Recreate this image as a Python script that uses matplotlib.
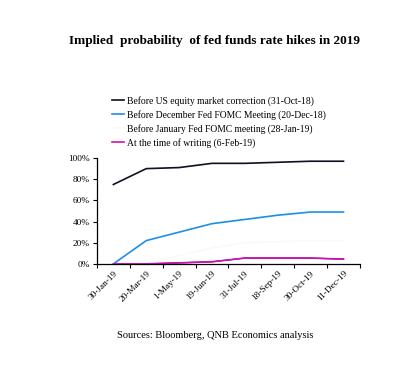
import matplotlib
matplotlib.use("Agg")
import matplotlib.pyplot as plt
from matplotlib.ticker import PercentFormatter, FixedLocator
import numpy as np

plt.rcParams['font.family'] = ['Liberation Serif', 'DejaVu Serif']

# FOMC meeting dates in 2019
meetings = ["30-Jan-19", "20-Mar-19", "1-May-19", "19-Jun-19",
            "31-Jul-19", "18-Sep-19", "30-Oct-19", "11-Dec-19"]

# implied probability (%) of at least one hike by each meeting
before_equity = [75, 90, 91, 95, 95, 96, 97, 97]
before_dec_fomc = [0, 22, 30, 38, 42, 46, 49, 49]
before_jan_fomc = [0, 0, 8, 15, 20, 21, 22, 22]
time_of_writing = [0, 0, 1, 2, 5.5, 5.5, 5.5, 4.5]

labels = ["Before US equity market correction (31-Oct-18)",
          "Before December Fed FOMC Meeting (20-Dec-18)",
          "Before January Fed FOMC meeting (28-Jan-19)",
          "At the time of writing (6-Feb-19)"]
colors = ["#101020", "#1e8fe6", "#f7f9fb", "#d010b8"]

fig = plt.figure(figsize=(4.09, 3.65), dpi=100)
ax = fig.add_axes([0.237, 0.277, 0.643, 0.290])

x = np.arange(len(meetings))
series = [before_equity, before_dec_fomc, before_jan_fomc, time_of_writing]
handles = []
for vals, lab, col in zip(series, labels, colors):
    h, = ax.plot(x, vals, color=col, lw=1.2, label=lab)
    handles.append(h)
# dark edge under the latest series, as in the source image
ax.plot(x, time_of_writing, color="#2a0828", lw=0.9, zorder=1.5)

ax.set_xlim(-0.5, len(meetings) - 0.5)
ax.set_ylim(0, 100)
ax.set_yticks(np.arange(0, 101, 20))
ax.yaxis.set_major_formatter(PercentFormatter(decimals=0))
ax.set_xticks(x)
ax.set_xticklabels(meetings, rotation=45, ha="right", va="top",
                   rotation_mode="anchor", fontsize=6.7)
ax.xaxis.set_minor_locator(FixedLocator(np.arange(-0.5, len(meetings), 1.0)))
ax.tick_params(axis="x", which="major", length=0, pad=4)
ax.tick_params(axis="x", which="minor", length=3, width=0.8, direction="out")
ax.tick_params(axis="y", length=3, width=0.8, labelsize=6.7, pad=2)
for s in ["top", "right"]:
    ax.spines[s].set_visible(False)
for s in ["left", "bottom"]:
    ax.spines[s].set_linewidth(0.9)

fig.legend(handles=handles, loc="upper left", bbox_to_anchor=(0.265, 0.748),
           frameon=False, fontsize=6.9, handlelength=1.25, handletextpad=0.3,
           labelspacing=0.42, borderaxespad=0)

fig.text(0.525, 0.887, "Implied  probability  of fed funds rate hikes in 2019",
         ha="center", va="center", fontsize=9.5, fontweight="bold")
fig.text(0.525, 0.082, "Sources: Bloomberg, QNB Economics analysis",
         ha="center", va="center", fontsize=7.5)

fig.savefig("out.png", dpi=100)
